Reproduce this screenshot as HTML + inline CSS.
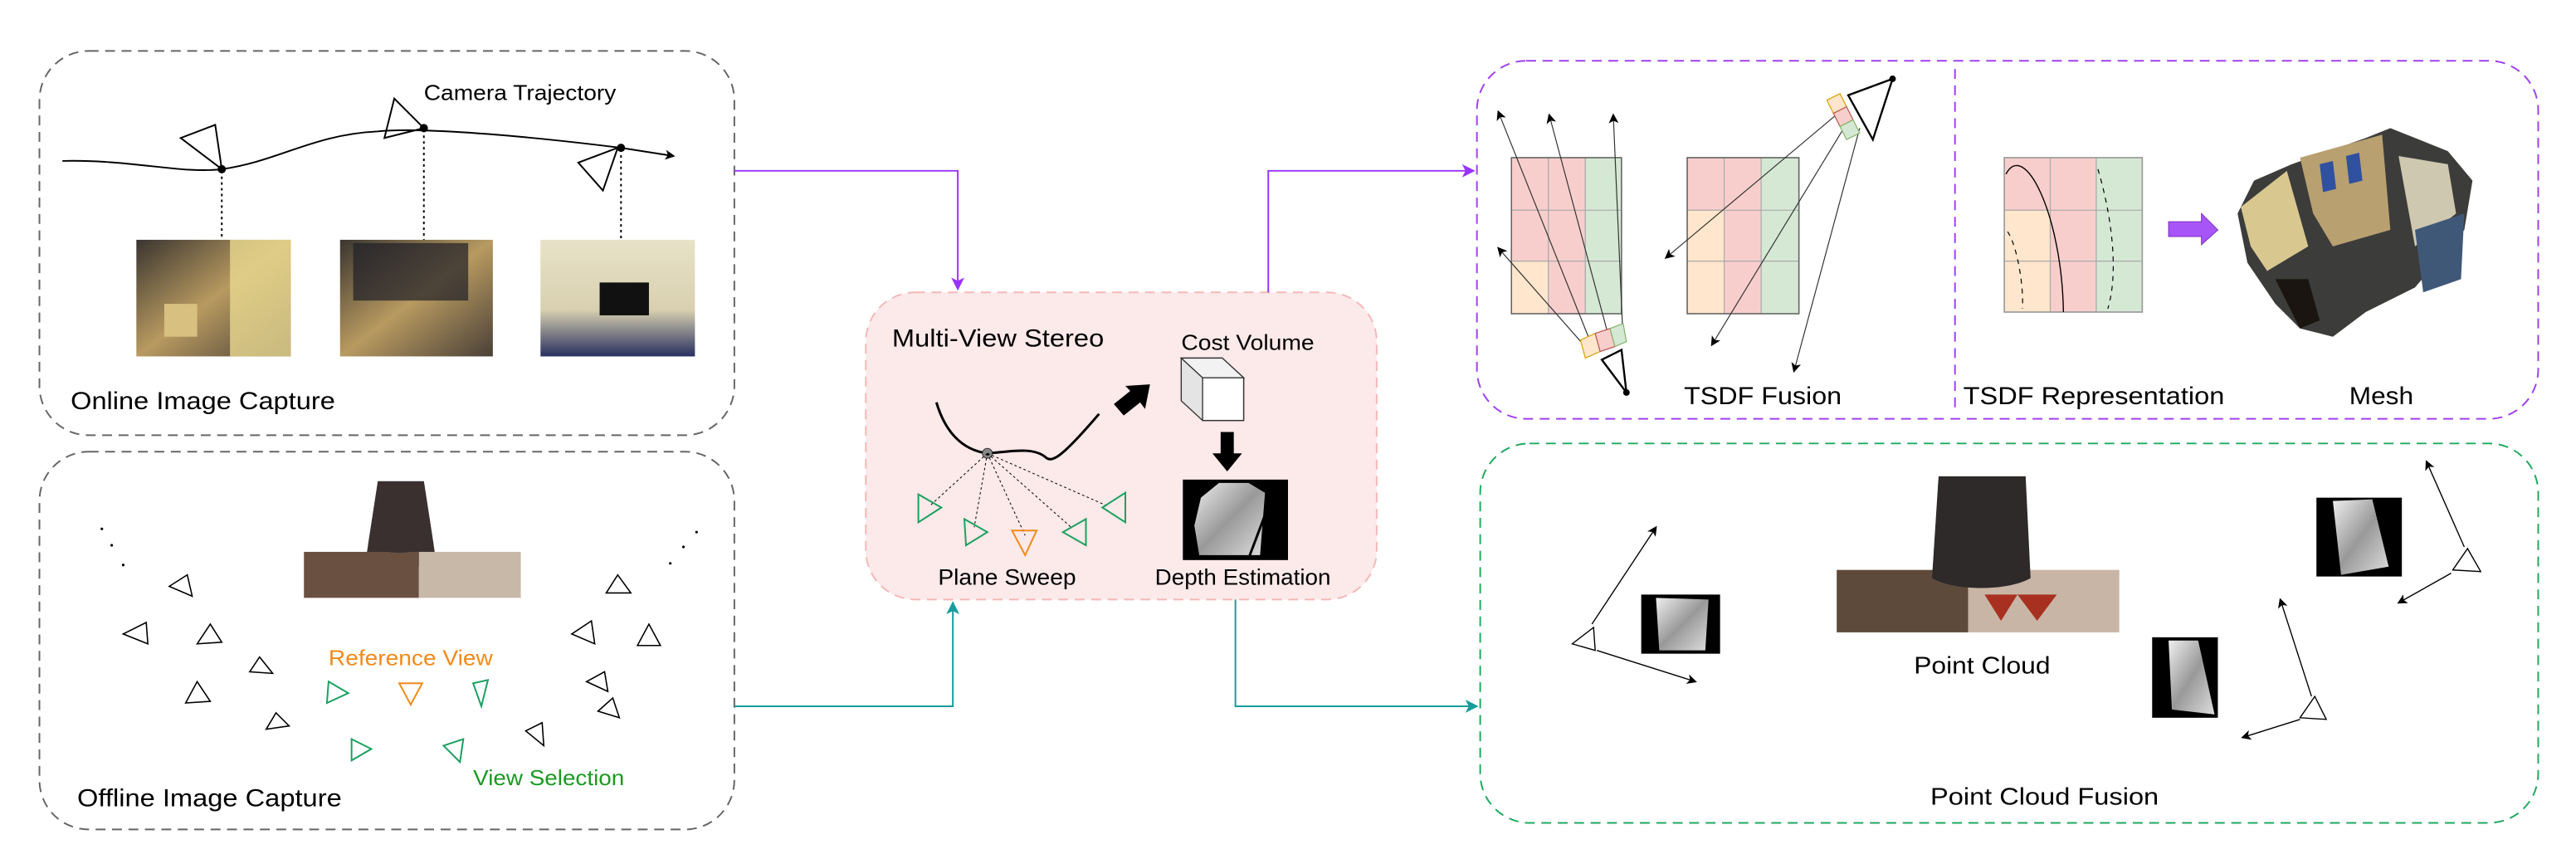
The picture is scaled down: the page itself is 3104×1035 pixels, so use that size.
<!DOCTYPE html>
<html><head><meta charset="utf-8"><style>
html,body{margin:0;padding:0;background:#fff;}
svg{display:block;}
text{font-family:"Liberation Sans",sans-serif;}
</style></head><body>
<svg width="3104" height="1035" viewBox="0 0 1568 523" preserveAspectRatio="none" xmlns="http://www.w3.org/2000/svg">
<defs>
<marker id="ap" markerWidth="8" markerHeight="8" refX="7" refY="4" orient="auto" markerUnits="userSpaceOnUse"><path d="M0,0 L8,4 L0,8 L2,4z" fill="#9933ff"/></marker>
<marker id="at" markerWidth="8" markerHeight="8" refX="7" refY="4" orient="auto" markerUnits="userSpaceOnUse"><path d="M0,0 L8,4 L0,8 L2,4z" fill="#169c9c"/></marker>
<marker id="ak" markerWidth="6" markerHeight="6" refX="5" refY="3" orient="auto" markerUnits="userSpaceOnUse"><path d="M0,0 L6,3 L0,6 L1.5,3z" fill="#000"/></marker>
<linearGradient id="room" x1="0" y1="0" x2="1" y2="1"><stop offset="0" stop-color="#3a3530"/><stop offset="0.5" stop-color="#b89a60"/><stop offset="1" stop-color="#4a4038"/></linearGradient>
<linearGradient id="room3" x1="0" y1="0" x2="0" y2="1"><stop offset="0" stop-color="#e8e2c8"/><stop offset="0.6" stop-color="#d8d0b0"/><stop offset="1" stop-color="#283060"/></linearGradient>
<linearGradient id="dep" x1="0" y1="0" x2="1" y2="1"><stop offset="0" stop-color="#eee"/><stop offset="0.5" stop-color="#999"/><stop offset="1" stop-color="#ddd"/></linearGradient>
</defs>

<!-- Boxes -->
<rect x="24" y="31" width="423" height="234" rx="30" fill="none" stroke="#666" stroke-width="1" stroke-dasharray="6,4"/>
<rect x="24" y="275" width="423" height="230" rx="30" fill="none" stroke="#666" stroke-width="1" stroke-dasharray="6,4"/>
<rect x="527" y="178" width="311" height="187" rx="30" fill="#fce9e9" stroke="#f4b8b8" stroke-width="1" stroke-dasharray="6,4"/>
<rect x="899" y="37" width="646" height="218" rx="30" fill="none" stroke="#a040f0" stroke-width="1" stroke-dasharray="6,4"/>
<line x1="1190" y1="42" x2="1190" y2="250" stroke="#a040f0" stroke-width="1" stroke-dasharray="6,4"/>
<rect x="901" y="270" width="644" height="231" rx="30" fill="none" stroke="#1faa60" stroke-width="1" stroke-dasharray="6,4"/>

<!-- Connectors -->
<path d="M447,104 H583 V176" fill="none" stroke="#9933ff" stroke-width="1" marker-end="url(#ap)"/>
<path d="M772,178 V104 H897" fill="none" stroke="#9933ff" stroke-width="1" marker-end="url(#ap)"/>
<path d="M447,430 H580 V367" fill="none" stroke="#169c9c" stroke-width="1" marker-end="url(#at)"/>
<path d="M752,365 V430 H899" fill="none" stroke="#169c9c" stroke-width="1" marker-end="url(#at)"/>

<!-- Online -->
<text x="258" y="61" font-size="13" textLength="117" lengthAdjust="spacingAndGlyphs">Camera Trajectory</text>
<path d="M38,98 C80,97 110,106 135,103 C170,98 190,82 230,80 C260,77 330,84 378,90 L410,95" fill="none" stroke="#000" stroke-width="1" marker-end="url(#ak)"/>
<circle cx="135" cy="103" r="2.5"/><circle cx="258" cy="78" r="2.5"/><circle cx="378" cy="90" r="2.5"/>
<path d="M135,103 L110,84 L131,76z" fill="none" stroke="#000" stroke-width="1"/>
<path d="M258,78 L240,60 L234,84z" fill="none" stroke="#000" stroke-width="1"/>
<path d="M376,90 L352,99 L367,116z" fill="none" stroke="#000" stroke-width="1"/>
<g stroke="#000" stroke-width="1" stroke-dasharray="1.5,2"><line x1="135" y1="104" x2="135" y2="146"/><line x1="258" y1="79" x2="258" y2="146"/><line x1="378" y1="91" x2="378" y2="146"/></g>
<rect x="83" y="146" width="94" height="71" fill="url(#room)"/>
<rect x="140" y="146" width="37" height="71" fill="#e8d890" opacity="0.8"/>
<rect x="100" y="185" width="20" height="20" fill="#d8c080"/>
<rect x="207" y="146" width="93" height="71" fill="url(#room)"/>
<rect x="215" y="148" width="70" height="35" fill="#202028" opacity="0.7"/>
<rect x="329" y="146" width="94" height="71" fill="url(#room3)"/>
<rect x="365" y="172" width="30" height="20" fill="#111"/>
<text x="43" y="249" font-size="15" textLength="161" lengthAdjust="spacingAndGlyphs">Online Image Capture</text>

<!-- Offline -->
<path d="M230,293 L258,293 L266,345 L222,345z" fill="#3a3030"/>
<rect x="185" y="336" width="70" height="28" fill="#6a5040"/>
<rect x="255" y="336" width="62" height="28" fill="#c8b8a8"/>
<path d="M230,293 L258,293 L264,332 C250,338 235,338 224,332z" fill="#3a3030"/>
<g fill="#000"><circle cx="62" cy="322" r="0.8"/><circle cx="68" cy="332" r="0.8"/><circle cx="75" cy="344" r="0.8"/><circle cx="424" cy="324" r="0.8"/><circle cx="416" cy="333" r="0.8"/><circle cx="408" cy="343" r="0.8"/></g>
<g fill="none" stroke="#000" stroke-width="0.8">
<path d="M103,357 L114,350 L117,363z"/><path d="M75,386 L89,379 L90,392z"/><path d="M120,392 L128,380 L135,391z"/>
<path d="M152,409 L158,400 L166,410z"/><path d="M113,428 L120,415 L128,427z"/><path d="M162,444 L168,434 L176,442z"/>
<path d="M369,361 L376,350 L384,361z"/><path d="M348,386 L360,378 L362,392z"/><path d="M388,393 L395,380 L402,393z"/>
<path d="M357,415 L368,409 L370,421z"/><path d="M364,433 L373,425 L377,437z"/><path d="M320,445 L330,440 L331,454z"/>
</g>
<text x="200" y="405" font-size="13" fill="#f28a1a" textLength="100" lengthAdjust="spacingAndGlyphs">Reference View</text>
<g fill="none" stroke="#1aa060" stroke-width="1"><path d="M200,415 L212,422 L199,428z"/><path d="M288,416 L297,414 L293,430z"/><path d="M214,450 L226,456 L214,463z"/><path d="M270,454 L282,450 L280,464z"/></g>
<path d="M243,416 L257,416 L250,429z" fill="none" stroke="#f28a1a" stroke-width="1"/>
<text x="288" y="478" font-size="13" fill="#1a9a20" textLength="92" lengthAdjust="spacingAndGlyphs">View Selection</text>
<text x="47" y="491" font-size="15" textLength="161" lengthAdjust="spacingAndGlyphs">Offline Image Capture</text>

<!-- MVS -->
<text x="543" y="211" font-size="15" textLength="129" lengthAdjust="spacingAndGlyphs">Multi-View Stereo</text>
<text x="719" y="213" font-size="13" textLength="81" lengthAdjust="spacingAndGlyphs">Cost Volume</text>
<path d="M570,245 C575,262 585,274 601,276 C615,275 628,272 636,278 C640,282 645,280 669,252" fill="none" stroke="#000" stroke-width="1.5"/>
<circle cx="601" cy="276" r="3" fill="#888" stroke="#333" stroke-width="0.5"/>
<g stroke="#000" stroke-width="0.5" stroke-dasharray="1.5,1.5"><line x1="601" y1="276" x2="566" y2="308"/><line x1="601" y1="276" x2="593" y2="321"/><line x1="601" y1="276" x2="624" y2="326"/><line x1="601" y1="276" x2="652" y2="321"/><line x1="601" y1="276" x2="674" y2="308"/></g>
<g fill="none" stroke="#1aa060" stroke-width="1"><path d="M559,301 L573,309 L559,318z"/><path d="M587,316 L601,324 L588,332z"/><path d="M661,316 L647,324 L661,332z"/><path d="M685,300 L671,309 L685,318z"/></g>
<path d="M616,323 L631,323 L624,338z" fill="none" stroke="#f28a1a" stroke-width="1"/>
<path d="M678,246 L688,238 L685,235 L700,234 L697,249 L694,245 L684,253z" fill="#000"/>
<path d="M719,218 L744,218 L757,230 L757,256 L732,256 L719,244z" fill="#e4e4e4" stroke="#333" stroke-width="0.7"/>
<path d="M719,218 L744,218 L757,230 L732,230z" fill="#f2f2f2" stroke="#333" stroke-width="0.7"/>
<rect x="732" y="230" width="25" height="26" fill="#fff" stroke="#333" stroke-width="0.7"/>
<path d="M743,263 L751,263 L751,276 L756,276 L747,287 L738,276 L743,276z" fill="#000"/>
<rect x="720" y="292" width="64" height="49" fill="#000"/>
<path d="M731,303 L742,294 L760,294 L770,300 L767,338 L730,338 L727,320z" fill="url(#dep)"/>
<line x1="774" y1="303" x2="760" y2="340" stroke="#000" stroke-width="1.5"/>
<text x="571" y="356" font-size="13.5" textLength="84" lengthAdjust="spacingAndGlyphs">Plane Sweep</text>
<text x="703" y="356" font-size="13.5" textLength="107" lengthAdjust="spacingAndGlyphs">Depth Estimation</text>

<!-- TSDF grids -->
<g stroke="#aaa" stroke-width="0.6">
<rect x="920" y="96" width="22.5" height="32" fill="#f8cecc"/><rect x="920" y="128" width="22.5" height="31" fill="#f8cecc"/><rect x="920" y="159" width="22.5" height="32" fill="#ffe6cc"/>
<rect x="942.5" y="96" width="22.5" height="95" fill="#f8cecc"/><rect x="965" y="96" width="22" height="95" fill="#d5e8d4"/>
<line x1="942.5" y1="128" x2="987" y2="128"/><line x1="942.5" y1="159" x2="987" y2="159"/>
<rect x="1027" y="96" width="22.5" height="32" fill="#f8cecc"/><rect x="1027" y="128" width="22.5" height="63" fill="#ffe6cc"/>
<rect x="1049.5" y="96" width="22.5" height="95" fill="#f8cecc"/><rect x="1072" y="96" width="23" height="95" fill="#d5e8d4"/>
<line x1="1027" y1="159" x2="1095" y2="159"/><line x1="1049.5" y1="128" x2="1095" y2="128"/>
<rect x="1220" y="96" width="28" height="32" fill="#f8cecc"/><rect x="1220" y="128" width="28" height="62" fill="#ffe6cc"/>
<rect x="1248" y="96" width="28" height="94" fill="#f8cecc"/><rect x="1276" y="96" width="28" height="94" fill="#d5e8d4"/>
<line x1="1220" y1="159" x2="1304" y2="159"/><line x1="1248" y1="128" x2="1304" y2="128"/>
</g>
<rect x="920" y="96" width="67" height="95" fill="none" stroke="#666" stroke-width="0.8"/>
<rect x="1027" y="96" width="68" height="95" fill="none" stroke="#666" stroke-width="0.8"/>
<rect x="1220" y="96" width="84" height="94" fill="none" stroke="#999" stroke-width="0.8"/>
<g stroke="#333" stroke-width="0.6" fill="none">
<line x1="968" y1="208" x2="912" y2="68" marker-end="url(#ak)"/><line x1="980" y1="208" x2="943" y2="70" marker-end="url(#ak)" /> 
<line x1="988" y1="208" x2="982" y2="70" marker-end="url(#ak)"/><line x1="964" y1="210" x2="912" y2="151" marker-end="url(#ak)"/>
<line x1="1120" y1="68" x2="1014" y2="157" marker-end="url(#ak)"/><line x1="1126" y1="72" x2="1042" y2="210" marker-end="url(#ak)"/><line x1="1132" y1="78" x2="1092" y2="226" marker-end="url(#ak)"/>
</g>
<g stroke-width="0.6"><path d="M962,207 L971,203 L974,214 L965,218z" fill="#ffe6cc" stroke="#d6a000"/><path d="M971,203 L980,200 L983,211 L974,214z" fill="#f8cecc" stroke="#b85450"/><path d="M980,200 L988,197 L990,208 L983,211z" fill="#d5e8d4" stroke="#82b366"/>
<path d="M1112,61 L1120,57 L1124,65 L1116,69z" fill="#ffe6cc" stroke="#d6a000"/><path d="M1116,69 L1124,65 L1128,73 L1120,77z" fill="#f8cecc" stroke="#b85450"/><path d="M1120,77 L1128,73 L1132,81 L1124,85z" fill="#d5e8d4" stroke="#82b366"/></g>
<path d="M975,219 L987,213 L990,239z" fill="none" stroke="#000" stroke-width="1.2"/><circle cx="990" cy="239" r="2"/>
<path d="M1125,58 L1152,48 L1140,85z" fill="none" stroke="#000" stroke-width="1.2"/><circle cx="1152" cy="48" r="2"/>
<path d="M1221,106 C1232,85 1255,130 1256,190" fill="none" stroke="#000" stroke-width="0.7"/>
<path d="M1222,141 C1228,150 1232,175 1231,188 M1277,103 C1285,130 1290,165 1283,188" fill="none" stroke="#000" stroke-width="0.6" stroke-dasharray="3,3"/>
<path d="M1320,135 L1340,135 L1340,130 L1350,140 L1340,149 L1340,144 L1320,144z" fill="#a855f7" stroke="#7a30c0" stroke-width="0.5"/>
<!-- mesh -->
<path d="M1372,110 L1395,100 L1440,84 L1455,78 L1490,92 L1505,110 L1500,140 L1470,175 L1440,190 L1420,205 L1400,200 L1385,185 L1368,160 L1362,130z" fill="#3c3c3a"/>
<path d="M1364,126 L1392,104 L1405,150 L1380,165 L1370,150z" fill="#d8c890"/>
<path d="M1400,96 L1450,82 L1455,140 L1420,150 L1408,130z" fill="#b8a070"/>
<path d="M1412,100 L1420,98 L1422,115 L1414,117z M1428,95 L1436,93 L1438,110 L1430,112z" fill="#3050a0"/>
<path d="M1460,95 L1490,100 L1495,130 L1470,150z" fill="#cfc8b0"/>
<path d="M1470,140 L1500,130 L1498,170 L1475,178z" fill="#405878"/>
<path d="M1385,170 L1400,200 L1412,195 L1405,170z" fill="#1a1510"/>
<text x="1025" y="246" font-size="15" textLength="96" lengthAdjust="spacingAndGlyphs">TSDF Fusion</text>
<text x="1195" y="246" font-size="15" textLength="159" lengthAdjust="spacingAndGlyphs">TSDF Representation</text>
<text x="1430" y="246" font-size="15" textLength="39" lengthAdjust="spacingAndGlyphs">Mesh</text>

<!-- Point cloud fusion -->
<rect x="1118" y="347" width="80" height="38" fill="#5e4a3a"/>
<rect x="1198" y="347" width="92" height="38" fill="#c9b5a5"/>
<path d="M1208,362 L1218,378 L1228,362 L1240,378 L1252,362z" fill="#a83020"/>
<path d="M1180,290 L1233,290 L1236,352 C1222,360 1190,360 1176,352z" fill="#2e2a2a"/>
<text x="1165" y="410" font-size="14.5" textLength="83" lengthAdjust="spacingAndGlyphs">Point Cloud</text>
<text x="1175" y="490" font-size="14.5" textLength="139" lengthAdjust="spacingAndGlyphs">Point Cloud Fusion</text>
<rect x="999" y="362" width="48" height="36" fill="#000"/>
<path d="M1008,364 L1040,365 L1038,396 L1010,396z" fill="url(#dep)"/>
<rect x="1410" y="303" width="52" height="48" fill="#000"/>
<path d="M1420,305 L1444,304 L1454,345 L1425,350z" fill="url(#dep)"/>
<rect x="1310" y="388" width="40" height="49" fill="#000"/>
<path d="M1320,390 L1338,390 L1348,435 L1322,432z" fill="url(#dep)"/>
<g fill="none" stroke="#000" stroke-width="0.7">
<path d="M957,392 L970,382 L971,396z"/><line x1="969" y1="380" x2="1008" y2="321" marker-end="url(#ak)"/><line x1="972" y1="396" x2="1032" y2="415" marker-end="url(#ak)"/>
<path d="M1493,347 L1502,334 L1510,348z"/><line x1="1500" y1="333" x2="1477" y2="281" marker-end="url(#ak)"/><line x1="1492" y1="349" x2="1460" y2="367" marker-end="url(#ak)"/>
<path d="M1400,437 L1409,424 L1416,438z"/><line x1="1407" y1="424" x2="1388" y2="365" marker-end="url(#ak)"/><line x1="1400" y1="438" x2="1365" y2="449" marker-end="url(#ak)"/>
</g>
</svg>
</body></html>
